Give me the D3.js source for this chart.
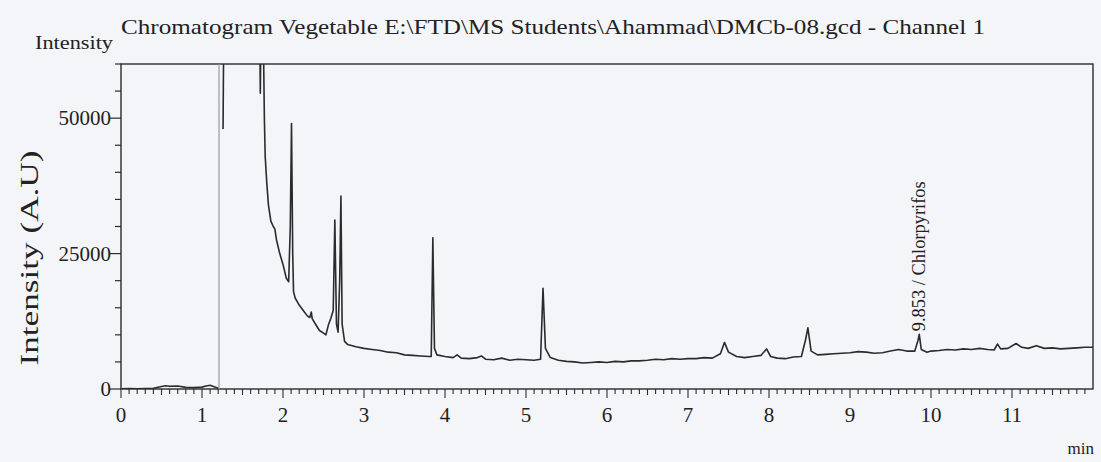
<!DOCTYPE html>
<html>
<head>
<meta charset="utf-8">
<script src="https://cdn.jsdelivr.net/npm/d3@7"></script>
<style>
  html, body { margin: 0; padding: 0; background: #f4f5f9; }
  svg { display: block; }
  text { font-family: "Liberation Serif", "DejaVu Serif", serif; fill: #222; }
</style>
</head>
<body>
<svg id="chart" width="1101" height="462"></svg>
<script>
// ---- data ----
const titleText = "Chromatogram Vegetable E:\\FTD\\MS Students\\Ahammad\\DMCb-08.gcd - Channel 1";
const yTickValues = [0, 25000, 50000];
const xTickValues = [0, 1, 2, 3, 4, 5, 6, 7, 8, 9, 10, 11];

// pre-injection baseline segment (min, intensity)
const preTime  = [0.00, 0.10, 0.20, 0.30, 0.40, 0.50, 0.55, 0.60, 0.70, 0.80, 0.90, 1.00, 1.05, 1.10, 1.15, 1.20];
const preValue = [50, 80, 60, 100, 150, 450, 600, 500, 550, 300, 250, 350, 550, 700, 400, 150];

// solvent-delay marker
const markerTime = [1.21];

// main trace (min, intensity); values above 60000 are off-scale
const traceTime = [1.26, 1.27, 1.70, 1.71, 1.72, 1.73, 1.76, 1.77, 1.78, 1.80, 1.82, 1.85, 1.88, 1.90, 1.92, 1.96,
  2.00, 2.04, 2.07, 2.09, 2.105, 2.12, 2.13, 2.15, 2.20, 2.25, 2.30, 2.33, 2.35, 2.36, 2.40, 2.45, 2.50, 2.53, 2.56,
  2.59, 2.62, 2.64, 2.66, 2.68, 2.70, 2.715, 2.73, 2.76, 2.80, 2.90, 3.00, 3.10, 3.20, 3.30, 3.40, 3.50, 3.60, 3.70,
  3.80, 3.83, 3.85, 3.87, 3.90, 4.00, 4.10, 4.15, 4.20, 4.30, 4.40, 4.45, 4.50, 4.60, 4.70, 4.80, 4.90, 5.00, 5.10,
  5.18, 5.21, 5.24, 5.30, 5.40, 5.50, 5.60, 5.70, 5.80, 5.90, 6.00, 6.10, 6.20, 6.30, 6.40, 6.50, 6.60, 6.70, 6.80,
  6.90, 7.00, 7.10, 7.20, 7.30, 7.40, 7.45, 7.50, 7.60, 7.70, 7.80, 7.90, 7.97, 8.02, 8.10, 8.20, 8.30, 8.40, 8.45,
  8.48, 8.52, 8.60, 8.70, 8.80, 8.90, 9.00, 9.10, 9.20, 9.30, 9.40, 9.50, 9.60, 9.70, 9.80, 9.84, 9.855, 9.88, 9.95,
  10.0, 10.1, 10.2, 10.3, 10.4, 10.5, 10.6, 10.7, 10.78, 10.82, 10.86, 10.95, 11.05, 11.12, 11.2, 11.3, 11.4, 11.5,
  11.6, 11.7, 11.8, 11.9, 12.0];
const traceValue = [48000, 70000, 70000, 70000, 54600, 70000, 62000, 50000, 43000, 38000, 34000, 31000, 30000, 29500, 27500, 25000,
  23000, 20500, 19800, 30000, 49000, 25000, 18000, 16800, 15500, 14500, 13500, 13200, 14200, 13000, 12000, 10800, 10300, 10000, 11800,
  13000, 14500, 31200, 12000, 10500, 20000, 35600, 12000, 8800, 8200, 7800, 7500, 7300, 7100, 6800, 6700, 6300, 6200, 6100,
  6000, 6000, 27900, 7500, 6300, 6000, 5800, 6300, 5700, 5600, 5800, 6100, 5500, 5400, 5700, 5300, 5500, 5400, 5300,
  5500, 18600, 7500, 5800, 5300, 5100, 5000, 4800, 4900, 5000, 4900, 5100, 5000, 5200, 5200, 5300, 5500, 5400, 5600,
  5500, 5600, 5600, 5800, 5700, 6500, 8600, 6800, 6000, 5800, 6000, 6200, 7400, 6000, 5700, 5600, 5900, 6000, 9000,
  11300, 7000, 6300, 6400, 6500, 6600, 6700, 6900, 6800, 6600, 6700, 7000, 7300, 7000, 7000, 9000, 10100, 7300, 6800,
  7000, 7100, 7300, 7200, 7400, 7300, 7500, 7300, 7200, 8300, 7400, 7500, 8400, 7700, 7500, 8000, 7500, 7600,
  7400, 7500, 7600, 7700, 7700];

const peakLabelTime = [9.853];
const peakLabelValue = [10100];
const peakLabelText = ["9.853 / Chlorpyrifos"];

// ---- layout ----
const svg = d3.select("#chart");
const L = 121, T = 64, R = 1093, B = 389;
const x = d3.scaleLinear().domain([0, 12]).range([L, R]);
const y = d3.scaleLinear().domain([0, 60000]).range([B, T]);

svg.append("defs").append("clipPath").attr("id", "clip")
  .append("rect").attr("x", L).attr("y", T).attr("width", R - L).attr("height", B - T);

const ink = "#2b2b2b";

// frame
svg.append("rect").attr("x", L).attr("y", T).attr("width", R - L).attr("height", B - T)
  .attr("fill", "none").attr("stroke", ink).attr("stroke-width", 1.4);

// y axis: major ticks (with labels) and minor ticks
const yMinor = d3.range(0, 60001, 5000);
svg.append("g").selectAll("line").data(yMinor).join("line")
  .attr("x1", L).attr("x2", d => yTickValues.includes(d) ? L - 11 : L - 6)
  .attr("y1", d => y(d)).attr("y2", d => y(d))
  .attr("stroke", ink).attr("stroke-width", 1.2);
svg.append("g").selectAll("text").data(yTickValues).join("text")
  .attr("x", L - 10).attr("y", d => y(d) + 7)
  .attr("text-anchor", "end").attr("font-size", 21).text(d => String(d));

// x axis: major ticks and 0.1-min minor ticks
const xMinor = d3.range(0, 120).map(i => i / 10);
svg.append("g").selectAll("line").data(xMinor).join("line")
  .attr("x1", d => x(d)).attr("x2", d => x(d))
  .attr("y1", B).attr("y2", (d, i) => i % 10 === 0 ? B + 9 : (i % 5 === 0 ? B + 6 : B + 5))
  .attr("stroke", ink).attr("stroke-width", 1.1);
svg.append("g").selectAll("text").data(xTickValues).join("text")
  .attr("x", d => x(d)).attr("y", B + 33)
  .attr("text-anchor", "middle").attr("font-size", 21).text(d => String(d));

// labels
svg.append("text").attr("x", 121).attr("y", 34).attr("font-size", 21)
  .attr("textLength", 864).attr("lengthAdjust", "spacingAndGlyphs").text(titleText);
svg.append("text").attr("x", 35).attr("y", 49).attr("font-size", 18)
  .attr("textLength", 78).attr("lengthAdjust", "spacingAndGlyphs").text("Intensity");
svg.append("text").attr("transform", "translate(38,258) rotate(-90)")
  .attr("text-anchor", "middle").attr("font-size", 25)
  .attr("textLength", 215).attr("lengthAdjust", "spacingAndGlyphs").text("Intensity (A.U)");
svg.append("text").attr("x", 1094).attr("y", 454).attr("text-anchor", "end")
  .attr("font-size", 17).text("min");

// marker
svg.append("g").selectAll("line").data(markerTime).join("line")
  .attr("x1", d => x(d)).attr("x2", d => x(d)).attr("y1", T).attr("y2", y(0))
  .attr("stroke", "#9a9a9a").attr("stroke-width", 1.2);

// traces
const line = d3.line().x(d => x(d[0])).y(d => y(d[1]));
const g = svg.append("g").attr("clip-path", "url(#clip)");
g.append("path").datum(preTime.map((t, i) => [t, preValue[i]]))
  .attr("d", line).attr("fill", "none").attr("stroke", ink).attr("stroke-width", 1.6);
g.append("path").datum(traceTime.map((t, i) => [t, traceValue[i]]))
  .attr("d", line).attr("fill", "none").attr("stroke", ink).attr("stroke-width", 1.6)
  .attr("stroke-linejoin", "round");

// peak annotation
peakLabelTime.forEach((t, i) => {
  svg.append("text")
    .attr("transform", `translate(${x(t) + 6},${y(peakLabelValue[i]) - 3}) rotate(-90)`)
    .attr("text-anchor", "start").attr("font-size", 18)
    .attr("textLength", 150).attr("lengthAdjust", "spacingAndGlyphs").text(peakLabelText[i]);
});
</script>
</body>
</html>
